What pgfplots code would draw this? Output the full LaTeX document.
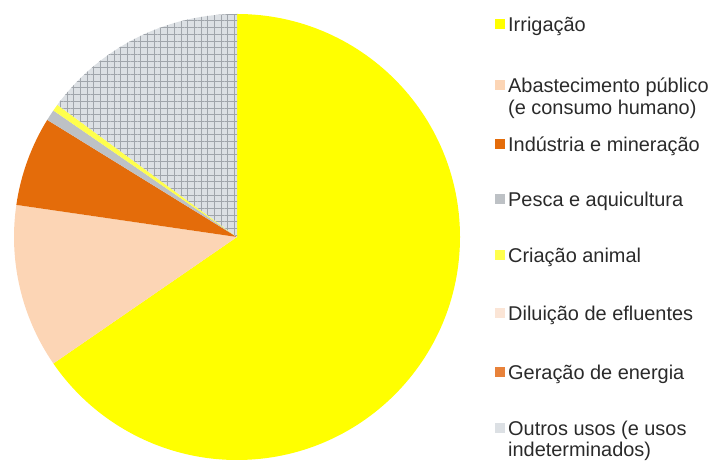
\documentclass[border=0pt]{standalone}
\usepackage{pgfplots}
\pgfplotsset{compat=1.18}
\usepackage{pgfplotstable}
\usetikzlibrary{patterns.meta}
\usepackage{fontspec}
\setmainfont{Liberation Sans}
\definecolor{cIrr}{HTML}{FFFF00}
\definecolor{cAba}{HTML}{FCD5B5}
\definecolor{cInd}{HTML}{E46C0A}
\definecolor{cPes}{HTML}{BDC1C5}
\definecolor{cCri}{HTML}{FFFF4D}
\definecolor{cDil}{HTML}{FBE5D6}
\definecolor{cGer}{HTML}{E8823A}
\definecolor{cOut}{HTML}{DCE0E4}
\definecolor{cGrid}{HTML}{A0A5AB}
\definecolor{cTxt}{HTML}{2A2A2A}

\pgfplotstableread{
key value
irr 65.4
aba 11.9
ind 6.5
pes 0.8
cri 0.5
dil 0
ger 0
out 14.9
}\piedata

\def\cum{0}
\newcommand\sliceangles[1]{%
  \pgfplotstablegetelem{#1}{value}\of\piedata
  \pgfmathsetmacro\tmpS{90-3.6*\cum}%
  \pgfmathsetmacro\newcum{\cum+\pgfplotsretval}%
  \pgfmathsetmacro\tmpE{90-3.6*\newcum}%
  \global\let\cum\newcum
  \expandafter\xdef\csname sS#1\endcsname{\tmpS}%
  \expandafter\xdef\csname sE#1\endcsname{\tmpE}%
}
\newcommand\SA[1]{\csname sS#1\endcsname}
\newcommand\EA[1]{\csname sE#1\endcsname}

\begin{document}
\begin{tikzpicture}
\sliceangles{0}\sliceangles{1}\sliceangles{2}\sliceangles{3}%
\sliceangles{4}\sliceangles{5}\sliceangles{6}\sliceangles{7}%
\begin{axis}[x=1bp, y=1bp, xmin=0, xmax=716, ymin=0, ymax=463,
  hide axis, clip=false, scale only axis]
\path (axis cs:0,0) rectangle (axis cs:716,463);
% pie slices (center 237,226; radius 223)
\fill[cIrr] (axis cs:237,226) -- ++(\SA{0}:223bp) arc[start angle=\SA{0}, end angle=\EA{0}, radius=223bp] -- cycle;
\fill[cAba] (axis cs:237,226) -- ++(\SA{1}:223bp) arc[start angle=\SA{1}, end angle=\EA{1}, radius=223bp] -- cycle;
\fill[cInd] (axis cs:237,226) -- ++(\SA{2}:223bp) arc[start angle=\SA{2}, end angle=\EA{2}, radius=223bp] -- cycle;
\fill[cPes] (axis cs:237,226) -- ++(\SA{3}:223bp) arc[start angle=\SA{3}, end angle=\EA{3}, radius=223bp] -- cycle;
\fill[cCri] (axis cs:237,226) -- ++(\SA{4}:223bp) arc[start angle=\SA{4}, end angle=\EA{4}, radius=223bp] -- cycle;
\fill[cOut] (axis cs:237,226) -- ++(\SA{7}:223bp) arc[start angle=\SA{7}, end angle=\EA{7}, radius=223bp] -- cycle;
\fill[pattern={Hatch[angle=0, distance=6.7bp, line width=0.7bp]}, pattern color=cGrid] (axis cs:237,226) -- ++(\SA{7}:223bp) arc[start angle=\SA{7}, end angle=\EA{7}, radius=223bp] -- cycle;
% legend
\begin{scope}[every node/.style={anchor=base west, inner sep=0pt, text=cTxt, font=\fontsize{20}{22}\selectfont}]
\fill[cIrr] (axis cs:495,434) rectangle (axis cs:504.5,443.5);
\node at (axis cs:508,431) {Irrigação};
\fill[cAba] (axis cs:495,373) rectangle (axis cs:504.5,382.5);
\node at (axis cs:508,370) {Abastecimento público};
\node at (axis cs:508,348) {(e consumo humano)};
\fill[cInd] (axis cs:495,314) rectangle (axis cs:504.5,323.5);
\node at (axis cs:508,311) {Indústria e mineração};
\fill[cPes] (axis cs:495,259) rectangle (axis cs:504.5,268.5);
\node at (axis cs:508,256) {Pesca e aquicultura};
\fill[cCri] (axis cs:495,203) rectangle (axis cs:504.5,212.5);
\node at (axis cs:508,200) {Criação animal};
\fill[cDil] (axis cs:495,145) rectangle (axis cs:504.5,154.5);
\node at (axis cs:508,142) {Diluição de efluentes};
\fill[cGer] (axis cs:495,86) rectangle (axis cs:504.5,95.5);
\node at (axis cs:508,83) {Geração de energia};
\fill[cOut] (axis cs:495,30) rectangle (axis cs:504.5,39.5);
\node at (axis cs:508,27) {Outros usos (e usos};
\node at (axis cs:508,6) {indeterminados)};
\end{scope}
\end{axis}
\end{tikzpicture}
\end{document}
